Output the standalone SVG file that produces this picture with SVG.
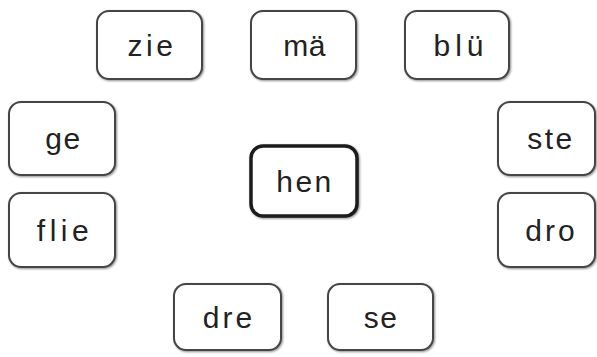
<svg xmlns="http://www.w3.org/2000/svg" width="597" height="357" viewBox="0 0 597 357">
<defs>
<filter id="sh" x="-10%" y="-10%" width="130%" height="130%">
<feGaussianBlur in="SourceAlpha" stdDeviation="1"/>
<feOffset dx="1" dy="1" result="b"/>
<feComponentTransfer><feFuncA type="linear" slope="0.45"/></feComponentTransfer>
<feMerge><feMergeNode/><feMergeNode in="SourceGraphic"/></feMerge>
</filter>
</defs>
<style>
.n{fill:#fff;stroke:#444;stroke-width:2;filter:url(#sh)}
.c{fill:#fff;stroke:#1e1e1e;stroke-width:3.5;filter:url(#sh)}
text{font-family:"Liberation Sans",Arial,sans-serif;font-size:30px;fill:#222;text-anchor:middle;dominant-baseline:central}
</style>
<rect width="597" height="357" fill="#fff"/>
<g id="connectors"></g>
<g id="zie"><rect class="n" x="97" y="11" width="105" height="68" rx="12"/><text x="152" y="45" style="letter-spacing:3.5px">zie</text></g>
<g id="ma"><rect class="n" x="251" y="11" width="105" height="68" rx="12"/><text x="304.5" y="45" style="letter-spacing:0.5px">mä</text></g>
<g id="blu"><rect class="n" x="405" y="11" width="104" height="68" rx="12"/><text x="461" y="45" style="letter-spacing:5px">blü</text></g>
<g id="ge"><rect class="n" x="9" y="102" width="106" height="73" rx="12"/><text x="63.5" y="138.5" style="letter-spacing:1.5px">ge</text></g>
<g id="flie"><rect class="n" x="9" y="193" width="106" height="74" rx="12"/><text x="65" y="230" style="letter-spacing:4.5px">flie</text></g>
<g id="ste"><rect class="n" x="498" y="102" width="97" height="73" rx="12"/><text x="551" y="138.5" style="letter-spacing:2.5px">ste</text></g>
<g id="dro"><rect class="n" x="498" y="193" width="97" height="74" rx="12"/><text x="551.5" y="230" style="letter-spacing:3px">dro</text></g>
<g id="hen"><rect class="c" x="251" y="146" width="106" height="70" rx="12"/><text x="305" y="181" style="letter-spacing:2.5px">hen</text></g>
<g id="dre"><rect class="n" x="174" y="284" width="107" height="66" rx="12"/><text x="229" y="317" style="letter-spacing:3px">dre</text></g>
<g id="se"><rect class="n" x="328" y="284" width="105" height="66" rx="12"/><text x="381" y="317" style="letter-spacing:1.5px">se</text></g>
</svg>
